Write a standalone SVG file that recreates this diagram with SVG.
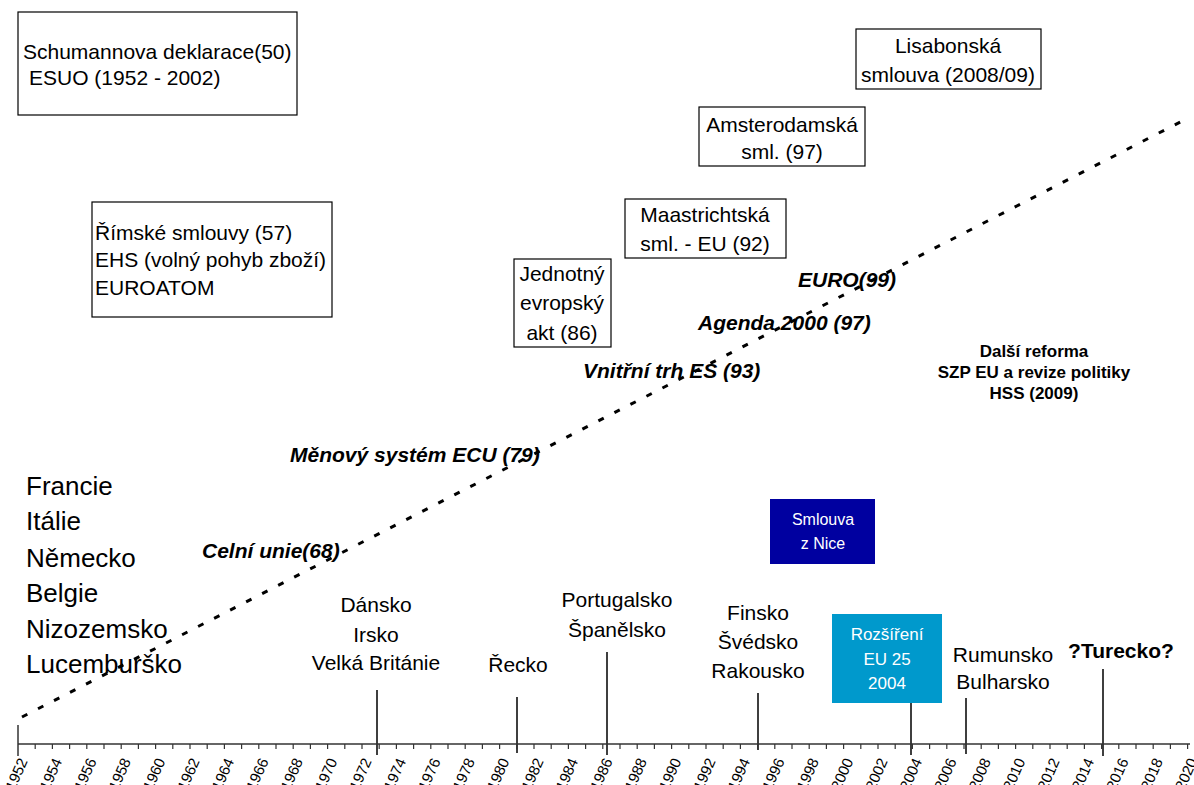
<svg xmlns="http://www.w3.org/2000/svg" width="1194" height="785" viewBox="0 0 1194 785">
<style>
text{font-family:"Liberation Sans",Arial,sans-serif;fill:#000}
.box{fill:#fff;stroke:#000;stroke-width:1.2}
.t21{font-size:21px}
.c{text-anchor:middle}
.cty{font-size:26px}
.bi{font-size:21px;font-weight:bold;font-style:italic}
.b17{font-size:17px;font-weight:bold;text-anchor:middle}
.w{fill:#fff;text-anchor:middle}
.yr{font-size:15px;text-anchor:end}
.mk{stroke:#000;stroke-width:1.5}
</style>
<rect width="1194" height="785" fill="#fff"/>

<g id="connectors">
<path d="M22 717 L1190 117" stroke="#000" stroke-width="3" stroke-dasharray="6 12" fill="none"/>
</g>

<g id="schuman"><rect class="box" x="18" y="12" width="279" height="103"/>
<text class="t21" x="23" y="59">Schumannova deklarace(50)</text>
<text class="t21" x="29" y="85">ESUO (1952 - 2002)</text></g>

<g id="rimske"><rect class="box" x="92" y="202" width="240" height="115"/>
<text class="t21" x="95" y="240">Římské smlouvy (57)</text>
<text class="t21" x="95" y="267">EHS (volný pohyb zboží)</text>
<text class="t21" x="95" y="295">EUROATOM</text></g>

<g id="jednotny"><rect class="box" x="514" y="259" width="97" height="88"/>
<text class="t21 c" x="562" y="281">Jednotný</text>
<text class="t21 c" x="562" y="310">evropský</text>
<text class="t21 c" x="562" y="340">akt (86)</text></g>

<g id="maastricht"><rect class="box" x="625" y="199" width="161" height="59"/>
<text class="t21 c" x="705" y="222">Maastrichtská</text>
<text class="t21 c" x="705" y="251">sml. - EU (92)</text></g>

<g id="amsterdam"><rect class="box" x="699" y="107" width="166" height="59"/>
<text class="t21 c" x="782" y="132">Amsterodamská</text>
<text class="t21 c" x="782" y="159">sml. (97)</text></g>

<g id="lisabon"><rect class="box" x="856" y="29" width="185" height="60"/>
<text class="t21 c" x="948" y="53">Lisabonská</text>
<text class="t21 c" x="948" y="82">smlouva (2008/09)</text></g>

<g id="countries">
<text class="cty" x="26" y="495">Francie</text>
<text class="cty" x="26" y="530">Itálie</text>
<text class="cty" x="26" y="567">Německo</text>
<text class="cty" x="26" y="602">Belgie</text>
<text class="cty" x="26" y="638">Nizozemsko</text>
<text class="cty" x="26" y="673">Lucemburško</text>
</g>

<g id="milestones">
<text class="bi" x="202" y="558">Celní unie(68)</text>
<text class="bi" x="290" y="462">Měnový systém ECU (79)</text>
<text class="bi" x="583" y="378">Vnitřní trh ES (93)</text>
<text class="bi" x="698" y="330">Agenda 2000 (97)</text>
<text class="bi" x="798" y="287">EURO(99)</text>
</g>

<g id="reforma">
<text class="b17" x="1034" y="357">Další reforma</text>
<text class="b17" x="1034" y="378">SZP EU a revize politiky</text>
<text class="b17" x="1034" y="399">HSS (2009)</text>
</g>

<g id="nice"><rect x="770" y="499" width="105" height="65" fill="#0000a0"/>
<text class="w" x="823" y="525" font-size="16">Smlouva</text>
<text class="w" x="823" y="549" font-size="16">z Nice</text></g>

<g id="rozsireni"><rect x="832" y="614" width="110" height="89" fill="#0099cc"/>
<text class="w" x="887" y="640" font-size="17">Rozšíření</text>
<text class="w" x="887" y="665" font-size="17">EU 25</text>
<text class="w" x="887" y="689" font-size="17">2004</text></g>

<g id="enl1973"><text class="t21 c" x="376" y="612">Dánsko</text><text class="t21 c" x="376" y="642">Irsko</text><text class="t21 c" x="376" y="670">Velká Británie</text></g>
<g id="enl1981"><text class="t21 c" x="518" y="672">Řecko</text></g>
<g id="enl1986"><text class="t21 c" x="617" y="607">Portugalsko</text><text class="t21 c" x="617" y="637">Španělsko</text></g>
<g id="enl1995"><text class="t21 c" x="758" y="620">Finsko</text><text class="t21 c" x="758" y="649">Švédsko</text><text class="t21 c" x="758" y="678">Rakousko</text></g>
<g id="enl2007"><text class="t21 c" x="1003" y="662">Rumunsko</text><text class="t21 c" x="1003" y="689">Bulharsko</text></g>
<g id="turecko"><text class="t21 c" x="1121" y="658" font-weight="bold">?Turecko?</text></g>

<g id="markers">
<path class="mk" d="M377 690V755M517 697V753M607 652V755M758 693V750M911 703V755M966 698V754M1103 669V756"/>
</g>

<g id="axis">
<path d="M18 744H1190" stroke="#333" stroke-width="1.5"/>
<path d="M18 725V756" stroke="#333" stroke-width="1.5"/>
<path stroke="#333" stroke-width="1.2" d="M35.2 744v5M52.4 744v5M69.6 744v5M86.8 744v5M104 744v5M121.2 744v5M138.4 744v5M155.6 744v5M172.8 744v5M190 744v5M207.2 744v5M224.4 744v5M241.6 744v5M258.8 744v5M276 744v5M293.2 744v5M310.4 744v5M327.6 744v5M344.8 744v5M362 744v5M379.2 744v5M396.4 744v5M413.6 744v5M430.8 744v5M448 744v5M465.2 744v5M482.4 744v5M499.6 744v5M516.8 744v5M534 744v5M551.2 744v5M568.4 744v5M585.6 744v5M602.8 744v5M620 744v5M637.2 744v5M654.4 744v5M671.6 744v5M688.8 744v5M706 744v5M723.2 744v5M740.4 744v5M757.6 744v5M774.8 744v5M792 744v5M809.2 744v5M826.4 744v5M843.6 744v5M860.8 744v5M878 744v5M895.2 744v5M912.4 744v5M929.6 744v5M946.8 744v5M964 744v5M981.2 744v5M998.4 744v5M1015.6 744v5M1032.8 744v5M1050 744v5M1067.2 744v5M1084.4 744v5M1101.6 744v5M1118.8 744v5M1136 744v5M1153.2 744v5M1170.4 744v5M1187.6 744v5"/>
<text class="yr" transform="translate(28 761) rotate(-66)">1952</text>
<text class="yr" transform="translate(62.4 761) rotate(-66)">1954</text>
<text class="yr" transform="translate(96.8 761) rotate(-66)">1956</text>
<text class="yr" transform="translate(131.2 761) rotate(-66)">1958</text>
<text class="yr" transform="translate(165.6 761) rotate(-66)">1960</text>
<text class="yr" transform="translate(200 761) rotate(-66)">1962</text>
<text class="yr" transform="translate(234.4 761) rotate(-66)">1964</text>
<text class="yr" transform="translate(268.8 761) rotate(-66)">1966</text>
<text class="yr" transform="translate(303.2 761) rotate(-66)">1968</text>
<text class="yr" transform="translate(337.6 761) rotate(-66)">1970</text>
<text class="yr" transform="translate(372 761) rotate(-66)">1972</text>
<text class="yr" transform="translate(406.4 761) rotate(-66)">1974</text>
<text class="yr" transform="translate(440.8 761) rotate(-66)">1976</text>
<text class="yr" transform="translate(475.2 761) rotate(-66)">1978</text>
<text class="yr" transform="translate(509.6 761) rotate(-66)">1980</text>
<text class="yr" transform="translate(544 761) rotate(-66)">1982</text>
<text class="yr" transform="translate(578.4 761) rotate(-66)">1984</text>
<text class="yr" transform="translate(612.8 761) rotate(-66)">1986</text>
<text class="yr" transform="translate(647.2 761) rotate(-66)">1988</text>
<text class="yr" transform="translate(681.6 761) rotate(-66)">1990</text>
<text class="yr" transform="translate(716 761) rotate(-66)">1992</text>
<text class="yr" transform="translate(750.4 761) rotate(-66)">1994</text>
<text class="yr" transform="translate(784.8 761) rotate(-66)">1996</text>
<text class="yr" transform="translate(819.2 761) rotate(-66)">1998</text>
<text class="yr" transform="translate(853.6 761) rotate(-66)">2000</text>
<text class="yr" transform="translate(888 761) rotate(-66)">2002</text>
<text class="yr" transform="translate(922.4 761) rotate(-66)">2004</text>
<text class="yr" transform="translate(956.8 761) rotate(-66)">2006</text>
<text class="yr" transform="translate(991.2 761) rotate(-66)">2008</text>
<text class="yr" transform="translate(1025.6 761) rotate(-66)">2010</text>
<text class="yr" transform="translate(1060 761) rotate(-66)">2012</text>
<text class="yr" transform="translate(1094.4 761) rotate(-66)">2014</text>
<text class="yr" transform="translate(1128.8 761) rotate(-66)">2016</text>
<text class="yr" transform="translate(1163.2 761) rotate(-66)">2018</text>
<text class="yr" transform="translate(1197.6 761) rotate(-66)">2020</text>
</g>
</svg>
